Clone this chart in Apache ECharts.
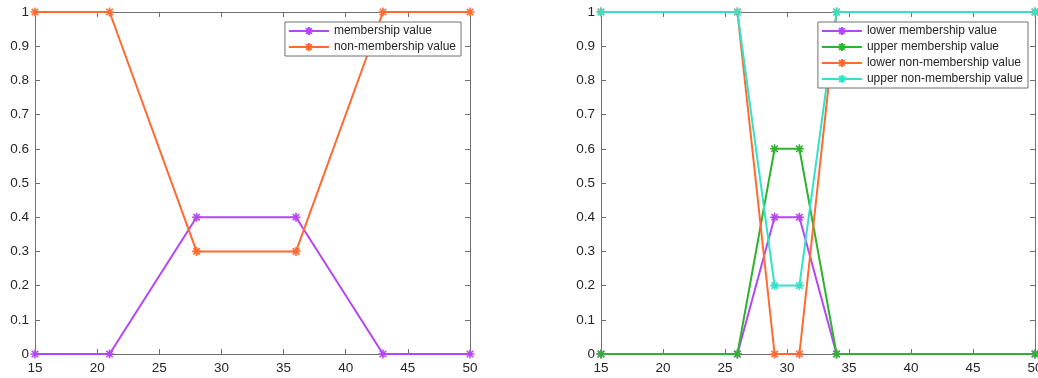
<!DOCTYPE html>
<html><head><meta charset="utf-8">
<script src="https://cdn.jsdelivr.net/npm/echarts@6/dist/echarts.min.js"></script>
<style>html,body{margin:0;padding:0;background:#fff}#c{width:1038px;height:378px}</style>
</head><body><div id="c"></div>
<script>
const xLeft = [15, 21, 28, 36, 43, 50];
const membership = [0, 0, 0.4, 0.4, 0, 0];
const nonMembership = [1, 1, 0.3, 0.3, 1, 1];

const xRight = [15, 26, 29, 31, 34, 50];
const lowerMembership = [0, 0, 0.4, 0.4, 0, 0];
const upperMembership = [0, 0, 0.6, 0.6, 0, 0];
const lowerNonMembership = [1, 1, 0, 0, 1, 1];
const upperNonMembership = [1, 1, 0.2, 0.2, 1, 1];

const namesLeft = ['membership value', 'non-membership value'];
const namesRight = ['lower membership value', 'upper membership value', 'lower non-membership value', 'upper non-membership value'];

const C = {purple:'#b446f5', orange:'#ff6a30', green:'#2db42d', cyan:'#33e2c8'};
const star = 'path://M0,-5L0,5M-5,0L5,0M-3.6,-3.6L3.6,3.6M-3.6,3.6L3.6,-3.6';
const font = 'Liberation Sans, Arial, sans-serif';
const axisCol = '#707070';
const txt = '#262626';

function zip(xs, ys){ return xs.map((x,i)=>[x, ys[i]]); }

function xAx(gi, pos){
  return {type:'value', gridIndex:gi, position:pos, min:15, max:50, interval:5,
    axisLine:{show:true, onZero:false, lineStyle:{color:axisCol, width:1}},
    axisTick:{show:true, inside:true, length:5, lineStyle:{color:axisCol}},
    axisLabel:{show: pos==='bottom', color:txt, fontFamily:font, fontSize:13.5, margin:7},
    splitLine:{show:false}};
}
function yAx(gi, pos){
  return {type:'value', gridIndex:gi, position:pos, min:0, max:1, interval:0.1,
    axisLine:{show:true, onZero:false, lineStyle:{color:axisCol, width:1}},
    axisTick:{show:true, inside:true, length:5, lineStyle:{color:axisCol}},
    axisLabel:{show: pos==='left', color:txt, fontFamily:font, fontSize:13.5, margin:6,
      formatter: v => String(Math.round(v*10)/10)},
    splitLine:{show:false}};
}
function ser(name, xi, yi, data, color){
  return {name, type:'line', xAxisIndex:xi, yAxisIndex:yi, data, symbol:star, symbolSize:9,
    showSymbol:true, animation:false,
    lineStyle:{color, width:2}, itemStyle:{color, borderColor:color, borderWidth:1.6}};
}
function legend(names, right, top){
  return {data:names, right, top, orient:'vertical', backgroundColor:'#fff',
    borderColor:'#707070', borderWidth:1, padding:[3,5,3,3], itemGap:4,
    itemWidth:40, itemHeight:10,
    textStyle:{fontFamily:font, fontSize:12, color:txt, padding:[0,0,0,0]}};
}

const chart = echarts.init(document.getElementById('c'), null, {renderer:'canvas'});
chart.setOption({
  animation:false,
  backgroundColor:'#fff',
  grid:[
    {left:35, right:568, top:12, bottom:24, containLabel:false, outerBoundsMode:'none'},
    {left:601, right:3, top:12, bottom:24, containLabel:false, outerBoundsMode:'none'}
  ],
  xAxis:[xAx(0,'bottom'), xAx(0,'top'), xAx(1,'bottom'), xAx(1,'top')],
  yAxis:[yAx(0,'left'), yAx(0,'right'), yAx(1,'left'), yAx(1,'right')],
  legend:[legend(namesLeft, 1038-461, 22), legend(namesRight, 1038-1028, 22)],
  series:[
    ser(namesLeft[0], 0, 0, zip(xLeft, membership), C.purple),
    ser(namesLeft[1], 0, 0, zip(xLeft, nonMembership), C.orange),
    ser(namesRight[0], 2, 2, zip(xRight, lowerMembership), C.purple),
    ser(namesRight[1], 2, 2, zip(xRight, upperMembership), C.green),
    ser(namesRight[2], 2, 2, zip(xRight, lowerNonMembership), C.orange),
    ser(namesRight[3], 2, 2, zip(xRight, upperNonMembership), C.cyan)
  ]
});
</script></body></html>
